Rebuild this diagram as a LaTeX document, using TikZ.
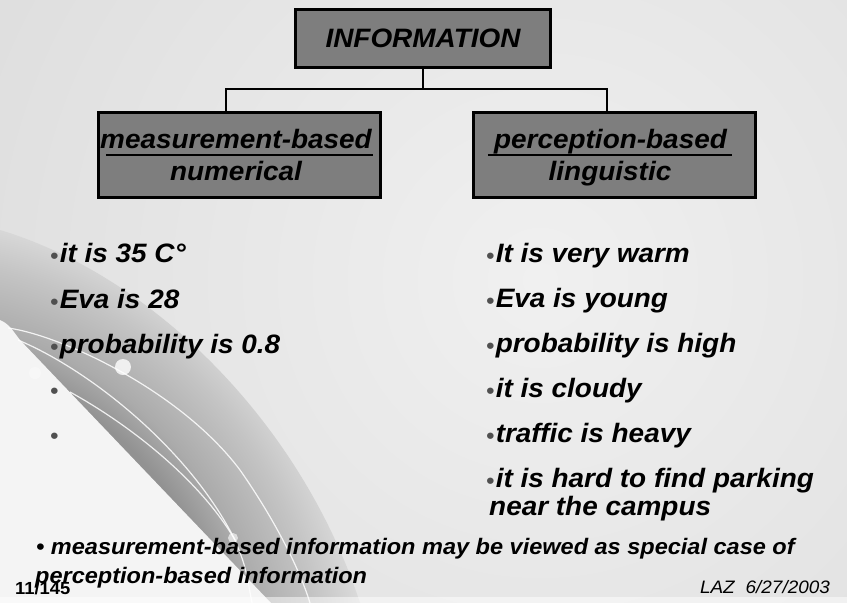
\documentclass[tikz,border=0pt]{standalone}
\usepackage{fontspec}
\setmainfont{Liberation Sans}[FakeStretch=1.05]
\usetikzlibrary{calc}
\definecolor{boxgray}{HTML}{7E7E7E}
\definecolor{bulgray}{HTML}{505050}
\definecolor{bgin}{HTML}{F0F0F0}
\definecolor{bgout}{HTML}{D2D2D2}
\definecolor{banddark}{HTML}{929292}
\definecolor{bandmid}{HTML}{ABABAB}
\definecolor{bandsoft}{HTML}{C4C4C4}
\definecolor{bandlight}{HTML}{D9D9D9}
\definecolor{paleleft}{HTML}{F4F4F4}
\pgfdeclareradialshading{bandshade}{\pgfpoint{0bp}{0bp}}{%
  color(0bp)=(banddark); color(325bp)=(banddark); color(360bp)=(bandmid);
  color(420bp)=(bandsoft); color(462bp)=(bandlight); color(480bp)=(bandlight)}
\newcommand{\mybul}{\textcolor{bulgray}{\fontsize{22}{22}\selectfont\raisebox{-1pt}{•}}\kern1.5pt}
\begin{document}
\begin{tikzpicture}[x=1pt,y=-1pt,
  conn/.style={line width=2.6pt, black, line join=miter},
  catbox/.style={draw=black, line width=3pt, fill=boxgray, inner sep=0pt},
  boxtext/.style={inner sep=0pt, font=\fontsize{26.6}{30}\selectfont\bfseries\itshape},
  item/.style={inner sep=0pt, anchor=base west, font=\fontsize{26.6}{28}\selectfont\bfseries\itshape},
  note/.style={inner sep=0pt, anchor=base west, font=\fontsize{22.4}{24}\selectfont\bfseries\itshape},
  uline/.style={line width=2.6pt, black},
  arcline/.style={white, line width=1.2pt, opacity=0.85}]
% ---------- background ----------
\useasboundingbox (0,0) rectangle (847,603);
\begin{scope}
  \clip (0,0) rectangle (847,603);
  \shade[inner color=bgin, outer color=bgout] (540,280) circle (1050);
  \begin{scope}
    \clip (0,230) .. controls (150,275) and (300,420) .. (360,603) -- (0,603) -- cycle;
    \node[inner sep=0pt, outer sep=0pt] (bandfill) at (-100,680) {\pgfuseshading{bandshade}};
  \end{scope}
  \fill[paleleft] (0,320) .. controls (8,324) .. (20,340) -- (271,603) -- (0,603) -- cycle;
  \draw[arcline] (8,328) .. controls (60,335) and (180,390) .. (240,470)
                 .. controls (275,520) and (300,570) .. (310,603);
  \draw[arcline] (18,340) .. controls (90,370) and (190,450) .. (235,540)
                 .. controls (245,565) .. (252,603);
  \draw[arcline] (70,392) .. controls (130,425) and (200,480) .. (235,540);
  \fill[white, opacity=0.8] (123,367) circle (8);
  \fill[white, opacity=0.6] (233,538) circle (5);
  \fill[white, opacity=0.35] (35,373) circle (6);
  \fill[white, opacity=0.5] (0,597) rectangle (847,603);
\end{scope}
% ---------- boxes ----------
\node[catbox, minimum width=255pt, minimum height=58pt, boxtext] (info) at (423,38.5) {INFORMATION};
\node[catbox, minimum width=282pt, minimum height=85pt] (meas) at (239.5,155) {};
\node[catbox, minimum width=282pt, minimum height=85pt] (perc) at (614.5,155) {};
\node[boxtext, anchor=base] (mlab) at (236,148) {measurement-based};
\node[boxtext, anchor=base] (nlab) at (236,180) {numerical};
\node[boxtext, anchor=base] (plab) at (610.5,148) {perception-based};
\node[boxtext, anchor=base] (llab) at (610,180) {linguistic};
\draw[uline] ([xshift=6pt,yshift=-7pt]mlab.base west) -- ([xshift=1pt,yshift=-7pt]mlab.base east);
\draw[uline] ([xshift=-6pt,yshift=-7pt]plab.base west) -- ([xshift=5pt,yshift=-7pt]plab.base east);
% ---------- connectors ----------
\coordinate (jL) at (226,89);
\coordinate (jR) at (607,89);
\draw[conn] (info.south) -- (info.south |- jL);
\draw[conn] (jL |- meas.north) -- (jL) -- (jR) -- (jR |- perc.north);
% ---------- left list ----------
\node[item] (l1) at (50,262) {\mybul it is 35 C°};
\node[item] (l2) at (50,308) {\mybul Eva is 28};
\node[item] (l3) at (50,353) {\mybul probability is 0.8};
\node[item] (l4) at (50,397) {\mybul};
\node[item] (l5) at (50,442) {\mybul};
% ---------- right list ----------
\node[item] (r1) at (486,262) {\mybul It is very warm};
\node[item] (r2) at (486,307) {\mybul Eva is young};
\node[item] (r3) at (486,352) {\mybul probability is high};
\node[item] (r4) at (486,397) {\mybul it is cloudy};
\node[item] (r5) at (486,442) {\mybul traffic is heavy};
\node[item] (r6) at (486,487) {\mybul it is hard to find parking};
\node[item] (r7) at (489,515) {near the campus};
% ---------- bottom ----------
\node[note] (b1) at (36,554) {• measurement-based information may be viewed as special case of};
\node[note] (b2) at (35,583) {perception-based information};
\node[inner sep=0pt, anchor=base west, font=\fontsize{17.5}{18}\selectfont\bfseries] (pg) at (15,594) {11/145};
\node[inner sep=0pt, anchor=base east, font=\fontsize{18}{18}\selectfont\itshape] (laz) at (830,593) {LAZ\hspace{11pt}6/27/2003};
\end{tikzpicture}
\end{document}
